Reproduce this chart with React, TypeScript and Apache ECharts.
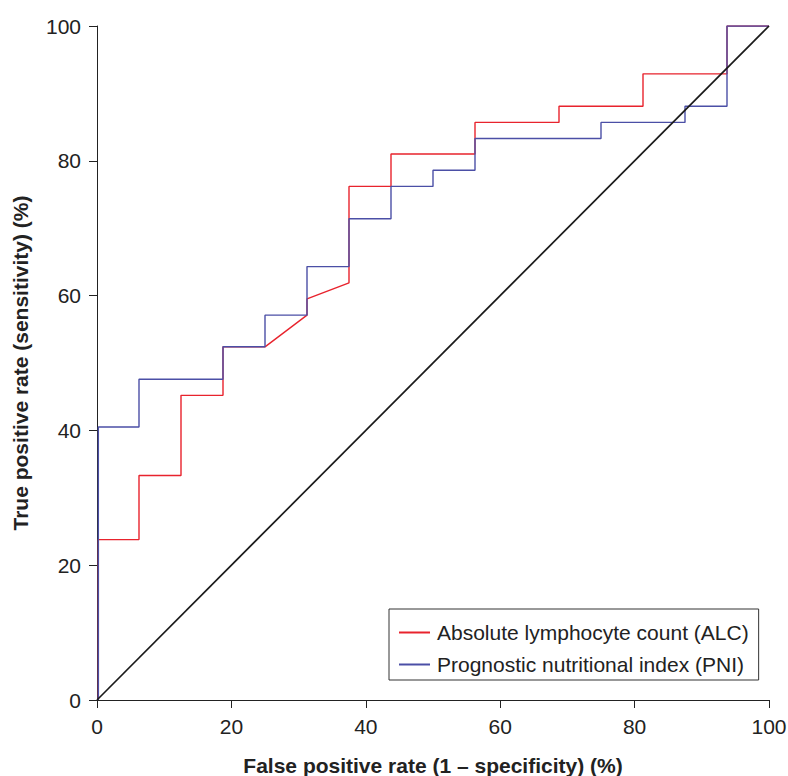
import React, { useEffect, useRef } from "react";
import * as echarts from "echarts";

const xTicks = [0, 20, 40, 60, 80, 100];
const alcFpr = [0.2, 0.2, 6.25, 6.25, 12.5, 12.5, 18.75, 18.75, 25, 31.25, 31.25, 37.5, 37.5, 43.75, 43.75, 56.25, 56.25, 68.75, 68.75, 81.25, 81.25, 93.75, 93.75, 100];
const alcTpr = [0, 23.8, 23.8, 33.3, 33.3, 45.2, 45.2, 52.4, 52.4, 57.1, 59.5, 61.9, 76.2, 76.2, 81.0, 81.0, 85.7, 85.7, 88.1, 88.1, 92.9, 92.9, 100, 100];
const pniFpr = [0.2, 0.2, 6.25, 6.25, 18.75, 18.75, 25, 25, 31.25, 31.25, 37.5, 37.5, 43.75, 43.75, 50, 50, 56.25, 56.25, 75, 75, 87.5, 87.5, 93.75, 93.75, 100];
const pniTpr = [0, 40.5, 40.5, 47.6, 47.6, 52.4, 52.4, 57.1, 57.1, 64.3, 64.3, 71.4, 71.4, 76.2, 76.2, 78.6, 78.6, 83.3, 83.3, 85.7, 85.7, 88.1, 88.1, 100, 100];
const refX = [0, 100];
const refY = [0, 100];

const zip = (a: number[], b: number[]) => a.map((v, i) => [v, b[i]]);

export default function App() {
  const ref = useRef<HTMLDivElement>(null);
  useEffect(() => {
    document.body.style.margin = "0";
    const chart = echarts.init(ref.current!, null, { renderer: "svg" });
    const font = "'Liberation Sans', Arial, Helvetica, sans-serif";
    chart.setOption({
      animation: false,
      textStyle: { fontFamily: font },
      grid: { left: 97, right: 19, top: 26, bottom: 76, containLabel: false, outerBoundsMode: "none" },
      legend: {
        orient: "vertical",
        left: 389,
        top: 609,
        padding: [13, 10, 5, 10],
        borderColor: "#333",
        borderWidth: 1,
        itemWidth: 31,
        itemHeight: 2,
        itemGap: 11,
        icon: "rect",
        data: [
          { name: "Absolute lymphocyte count (ALC)", icon: "rect" },
          { name: "Prognostic nutritional index (PNI)", icon: "rect" },
        ],
        textStyle: { fontSize: 21, color: "#222", fontFamily: font, padding: [0, 0, 0, 2] },
      },
      xAxis: {
        type: "value",
        min: 0,
        max: 100,
        interval: 20,
        name: "False positive rate (1 – specificity) (%)",
        nameLocation: "middle",
        nameGap: 55,
        nameTextStyle: { fontSize: 21, fontWeight: "bold", color: "#222", fontFamily: font },
        axisLine: { lineStyle: { color: "#222", width: 1 } },
        axisTick: { show: true, length: 8, lineStyle: { color: "#222" } },
        axisLabel: { fontSize: 21, color: "#222", margin: 16, fontFamily: font, customValues: xTicks },
        splitLine: { show: false },
      },
      yAxis: {
        type: "value",
        min: 0,
        max: 100,
        interval: 20,
        name: "True positive rate (sensitivity) (%)",
        nameLocation: "middle",
        nameGap: 66,
        nameTextStyle: { fontSize: 21, fontWeight: "bold", color: "#222", fontFamily: font },
        axisLine: { show: true, lineStyle: { color: "#222", width: 1 } },
        axisTick: { show: true, length: 8, lineStyle: { color: "#222" } },
        axisLabel: { fontSize: 21, color: "#222", margin: 16, fontFamily: font },
        splitLine: { show: false },
      },
      series: [
        {
          name: "Absolute lymphocyte count (ALC)",
          type: "line",
          symbol: "none",
          data: zip(alcFpr, alcTpr),
          lineStyle: { color: "#e8232d", width: 1.4 },
          itemStyle: { color: "#e8232d" },
        },
        {
          name: "Prognostic nutritional index (PNI)",
          type: "line",
          symbol: "none",
          data: zip(pniFpr, pniTpr),
          lineStyle: { color: "#4b4fa6", width: 1.4 },
          itemStyle: { color: "#4b4fa6" },
        },
        {
          name: "ref",
          type: "line",
          symbol: "none",
          data: zip(refX, refY),
          lineStyle: { color: "#1a1a1a", width: 1.7 },
        },
      ],
    });
    return () => chart.dispose();
  }, []);
  return <div ref={ref} style={{ width: 788, height: 776 }} />;
}
